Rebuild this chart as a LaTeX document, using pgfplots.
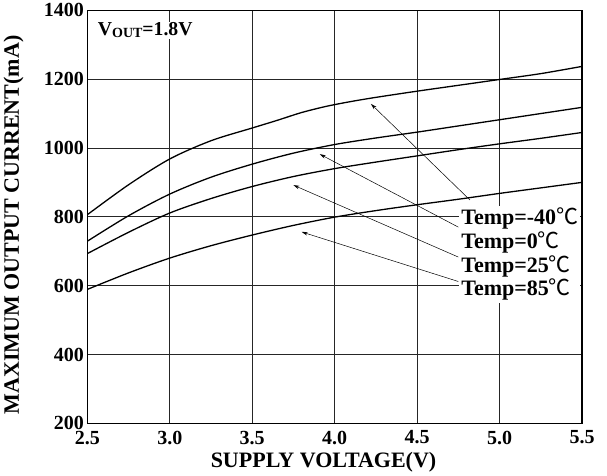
\documentclass[border=0pt]{standalone}
\usepackage{fontspec}
\setmainfont{Liberation Serif}
\newfontfamily\cjk{Noto Sans CJK SC}
\usepackage{pgfplots}
\pgfplotsset{compat=1.18}
\usetikzlibrary{arrows.meta}
\newcommand{\degC}{{\cjk\mdseries ℃}}
\begin{document}
\begin{tikzpicture}
\begin{axis}[
  scale only axis,
  width=494.7bp, height=413bp,
  xmin=2.5, xmax=5.5, ymin=200, ymax=1400,
  xtick={2.5,3.0,3.5,4.0,4.5,5.0,5.5},
  ytick={200,400,600,800,1000,1200,1400},
  grid=major,
  major grid style={black!85, line width=0.6bp},
  axis line style={line width=1.3bp},
  major tick length=0pt,
  /pgf/number format/assume math mode=true,
  /pgf/number format/1000 sep={},
  tick label style={font=\fontsize{20bp}{24bp}\selectfont\bfseries},
  xticklabel style={yshift=-4bp, /pgf/number format/.cd, fixed, fixed zerofill, precision=1},
  label style={font=\fontsize{22bp}{26bp}\selectfont\bfseries},
  xlabel={SUPPLY VOLTAGE(V)},
  ylabel={MAXIMUM OUTPUT CURRENT(mA)},
  xlabel style={at={(rel axis cs:0.4775,-0.1082)}, anchor=base},
  ylabel style={at={(rel axis cs:-0.1492,0.48)}, anchor=center},
  curve/.style={black, line width=1.3bp, smooth, mark=none},
]
% Temp=-40C
\addplot[curve] coordinates {
(2.5,806) (2.75,893) (3.0,968) (3.25,1021) (3.5,1058) (3.65,1080)
(3.8,1103) (3.95,1121) (4.1,1135) (4.25,1147) (4.5,1165) (4.75,1182)
(5.0,1199) (5.25,1216) (5.5,1237)};
% Temp=0C
\addplot[curve] coordinates {
(2.5,729) (2.75,803) (3.0,866) (3.25,915) (3.5,953) (3.75,985)
(4.0,1010) (4.25,1029) (4.5,1046) (4.75,1064) (5.0,1082) (5.25,1100)
(5.5,1118)};
% Temp=25C
\addplot[curve] coordinates {
(2.5,693) (2.75,755) (3.0,811) (3.25,853) (3.5,888) (3.75,917)
(4.0,940) (4.25,959) (4.5,977) (4.75,995) (5.0,1012) (5.25,1028)
(5.5,1045)};
% Temp=85C
\addplot[curve] coordinates {
(2.5,589) (2.75,637) (3.0,680) (3.25,716) (3.5,747) (3.75,775)
(4.0,799) (4.25,818) (4.5,835) (4.75,851) (5.0,868) (5.25,884)
(5.5,900)};

\coordinate (o) at (rel axis cs:0,0);
% pointers
\begin{scope}[line width=0.5bp, -{Stealth[length=6bp,width=3.5bp]}]
\draw (axis cs:4.82,849) -- (axis cs:4.22,1128);
\draw (axis cs:4.75,770) -- (axis cs:3.91,982);
\draw (axis cs:4.75,683) -- (axis cs:3.75,892);
\draw (axis cs:4.75,612) -- (axis cs:3.80,756);
\end{scope}
\node[fill=white, anchor=north west, inner sep=2bp, align=left,
  font=\fontsize{22bp}{23.7bp}\selectfont\bfseries]
  at (axis cs:4.755,832)
  {Temp=-40\degC\\Temp=0\degC\\Temp=25\degC\\Temp=85\degC};
\node[fill=white, anchor=base west, inner sep=1bp,
  font=\fontsize{19.7bp}{22bp}\selectfont\bfseries]
  at (rel axis cs:0.019,0.938)
  {V\raisebox{-1.5bp}{\fontsize{14bp}{14bp}\selectfont OUT}=1.8V};
\end{axis}
\pgfresetboundingbox
\path (o) ++(-87.3bp,-52.7bp) rectangle ++(607bp,476bp);
\end{tikzpicture}
\end{document}
